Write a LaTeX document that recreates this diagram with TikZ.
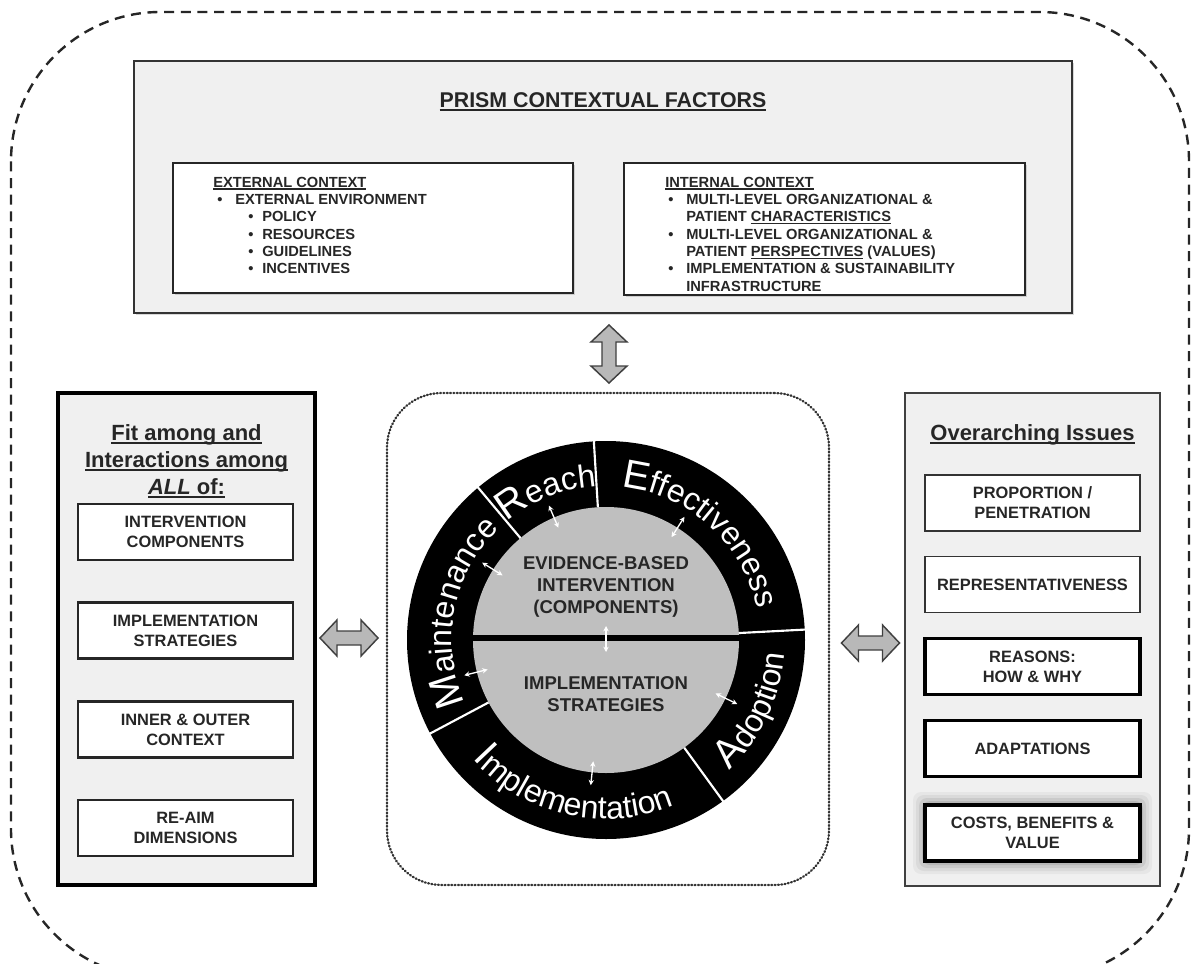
\documentclass[tikz,border=0pt]{standalone}
\usepackage{fontspec}
\setmainfont{Liberation Sans}
\usetikzlibrary{decorations.text,arrows.meta,shadows}
\newcommand\myul[1]{\leavevmode\setbox0=\hbox{#1}\rlap{\vrule height -0.09em depth 0.17em width \wd0}\box0\relax}
\newcommand\ringbig{\fontsize{30}{32}\selectfont}
\newcommand\ringsmall{\fontsize{24}{26}\selectfont}
\newcommand\fatarrow[2]{\draw[fat, shift={#1}, rotate=#2] (29,0) -- (12,18) -- (12,7) -- (-12,7) -- (-12,18) -- (-29,0) -- (-12,-18) -- (-12,-7) -- (12,-7) -- (12,-18) -- cycle;}
\begin{document}
\begin{tikzpicture}[x=0.75pt,y=0.75pt,
  topbox/.style={draw=black!80, line width=1.6pt, fill=black!6, inner sep=0pt, drop shadow={shadow xshift=1.2pt,shadow yshift=-1.2pt,opacity=0.3}},
  ctxbox/.style={draw=black!85, line width=1.5pt, fill=white, inner sep=0pt, drop shadow={shadow xshift=1.2pt,shadow yshift=-1.2pt,opacity=0.3}},
  panelL/.style={draw=black, line width=2.8pt, fill=black!6, inner sep=0pt},
  panelR/.style={draw=black!75, line width=1.6pt, fill=black!6, inner sep=0pt},
  lbox/.style={draw=black!85, line width=1.7pt, fill=white, minimum width=161.25pt, minimum height=42pt, inner sep=0pt, align=center, font=\fontsize{12.3}{15}\selectfont\bfseries, text=black!85},
  rthin/.style={lbox, draw=black!80, line width=1.4pt},
  rthick/.style={lbox, draw=black, line width=2.6pt},
  dotbox/.style={draw=black!80, line width=1.7pt, dash pattern=on 0.7pt off 1.8pt, line cap=round, rounded corners=41pt, inner sep=0pt},
  fat/.style={draw=black!75, line width=1.1pt, fill=black!28, line join=miter},
  divider/.style={white, line width=1.6pt},
  tinyarrow/.style={white, line width=1pt, {Stealth[length=4pt,width=4pt]}-{Stealth[length=4pt,width=4pt]}},
  ringtext/.style={decorate, decoration={text along path, text align=center, text color=white}},
  ctext/.style={align=center, inner sep=0pt, font=\fontsize{13.9}{16.5}\selectfont\bfseries, text=black!85},
  ptitle/.style={align=center, inner sep=0pt, font=\fontsize{16.5}{20.25}\selectfont\bfseries, text=black!85},
  ctxtext/.style={align=left, inner sep=0pt, font=\fontsize{11}{13}\selectfont\bfseries, text=black!85},
]
\useasboundingbox (0,0) rectangle (1193,-964);
\clip (0,0) rectangle (1193,-964);
\fill[white] (0,0) rectangle (1193,-964);

% outer dashed frame
\draw[black!85, line width=1.8pt, dash pattern=on 7.5pt off 5pt, rounded corners=112pt] (11,-12) rectangle (1189,-978);

% PRISM contextual factors
\node[topbox, minimum width=703.5pt, minimum height=189pt] (prismbox) at (603,-187) {};
\node[anchor=base, inner sep=0pt, font=\fontsize{16}{18}\selectfont\bfseries, text=black!85] (prism) at (603,-107) {\myul{PRISM CONTEXTUAL FACTORS}};
\node[ctxbox, minimum width=300pt, minimum height=97.5pt] (extbox) at (373,-228) {};
\node[ctxbox, minimum width=300.75pt, minimum height=99pt] (intbox) at (824.5,-229) {};
\node[ctxtext, anchor=north west] (ext) at (213,-176.5) {\myul{EXTERNAL CONTEXT}\\
\hspace*{3pt}\makebox[13.5pt][l]{\textbullet}EXTERNAL ENVIRONMENT\\
\hspace*{26.25pt}\makebox[10.5pt][l]{\textbullet}POLICY\\
\hspace*{26.25pt}\makebox[10.5pt][l]{\textbullet}RESOURCES\\
\hspace*{26.25pt}\makebox[10.5pt][l]{\textbullet}GUIDELINES\\
\hspace*{26.25pt}\makebox[10.5pt][l]{\textbullet}INCENTIVES};
\node[ctxtext, anchor=north west] (int) at (665,-176.5) {\myul{INTERNAL CONTEXT}\\
\hspace*{2.25pt}\makebox[13.5pt][l]{\textbullet}MULTI-LEVEL ORGANIZATIONAL \&\\
\hspace*{15.75pt}PATIENT \myul{CHARACTERISTICS}\\
\hspace*{2.25pt}\makebox[13.5pt][l]{\textbullet}MULTI-LEVEL ORGANIZATIONAL \&\\
\hspace*{15.75pt}PATIENT \myul{PERSPECTIVES} (VALUES)\\
\hspace*{2.25pt}\makebox[13.5pt][l]{\textbullet}IMPLEMENTATION \& SUSTAINABILITY\\
\hspace*{15.75pt}INFRASTRUCTURE};

% left panel
\node[panelL, minimum width=192.75pt, minimum height=369pt] (left) at (186.5,-639) {};
\node[ptitle, anchor=north] (fit) at (186.5,-424) {\myul{Fit among and}\\\myul{Interactions among}\\\myul{\textit{ALL} of:}};
\node[lbox] (l1) at (185.5,-532) {INTERVENTION\\COMPONENTS};
\node[lbox] (l2) at (185.5,-630.5) {IMPLEMENTATION\\STRATEGIES};
\node[lbox] (l3) at (185.5,-729.5) {INNER \& OUTER\\CONTEXT};
\node[lbox] (l4) at (185.5,-828) {RE-AIM\\DIMENSIONS};

% right panel
\node[panelR, minimum width=191.25pt, minimum height=369.75pt] (right) at (1032.5,-639.5) {};
\node[ptitle, anchor=base] (over) at (1032.5,-440) {\myul{Overarching Issues}};
\node[rthin] (r1) at (1032.5,-503) {PROPORTION /\\PENETRATION};
\node[rthin] (r2) at (1032.5,-584.5) {REPRESENTATIVENESS};
\node[rthick] (r3) at (1032.5,-666.5) {REASONS:\\HOW \& WHY};
\node[rthick] (r4) at (1032.5,-748.5) {ADAPTATIONS};
\foreach \g/\o in {12/0.04,9/0.05,6/0.07,3/0.09}
  \fill[black, opacity=\o, rounded corners=6pt] ({925-\g},{-862-\g}) rectangle ({1140+\g},{-804+\g});
\node[rthick] (r5) at (1032.5,-833) {COSTS, BENEFITS \&\\VALUE};

% core dotted frame
\node[dotbox, minimum width=331.5pt, minimum height=369pt] (core) at (608,-639) {};

% connecting fat arrows
\coordinate (va) at (609,-354);
\coordinate (la) at (349,-638);
\coordinate (ra) at (870.5,-643);
\fatarrow{(va)}{90}
\fatarrow{(la)}{0}
\fatarrow{(ra)}{0}

% RE-AIM wheel
\coordinate (C) at (606,-640);
\fill[black] (C) circle[radius=199];
\fill[black!25] (C) circle[radius=133];
\draw[black, line width=3.8pt] (C) ++(-134,2) -- ++(268,0);
\foreach \a in {130,93.5,3,-54,208}
  \draw[divider] (C) ++(\a:133) -- ++(\a:67);

\path[ringtext, decoration={text={|\ringbig|M|\ringsmall|aintenance}}] (C) ++(212:154) arc[start angle=212, end angle=126, radius=154];
\path[ringtext, decoration={text={|\ringbig|R|\ringsmall|each}}] (C) ++(140:154) arc[start angle=140, end angle=83.5, radius=154];
\path[ringtext, decoration={text={|\ringbig|E|\ringsmall|ffectiveness}}] (C) ++(96:154) arc[start angle=96, end angle=0, radius=154];
\path[ringtext, decoration={text={|\ringbig|A|\ringsmall|doption}}] (C) ++(-60:179) arc[start angle=-60, end angle=9, radius=179];
\path[ringtext, decoration={text={|\ringbig|I|\ringsmall|mplementation}}] (C) ++(205:179) arc[start angle=205, end angle=309, radius=179];

\foreach \a in {113,57.5,148,194,-26,264}
  \draw[tinyarrow] (C) ++(\a:122) -- ++(\a:24);
\draw[tinyarrow] (C) ++(0,14) -- ++(0,-26);

\node[ctext, anchor=north] (ebi) at (606,-556) {EVIDENCE-BASED\\INTERVENTION\\(COMPONENTS)};
\node[ctext, anchor=north] (ist) at (606,-676) {IMPLEMENTATION\\STRATEGIES};
\end{tikzpicture}
\end{document}
